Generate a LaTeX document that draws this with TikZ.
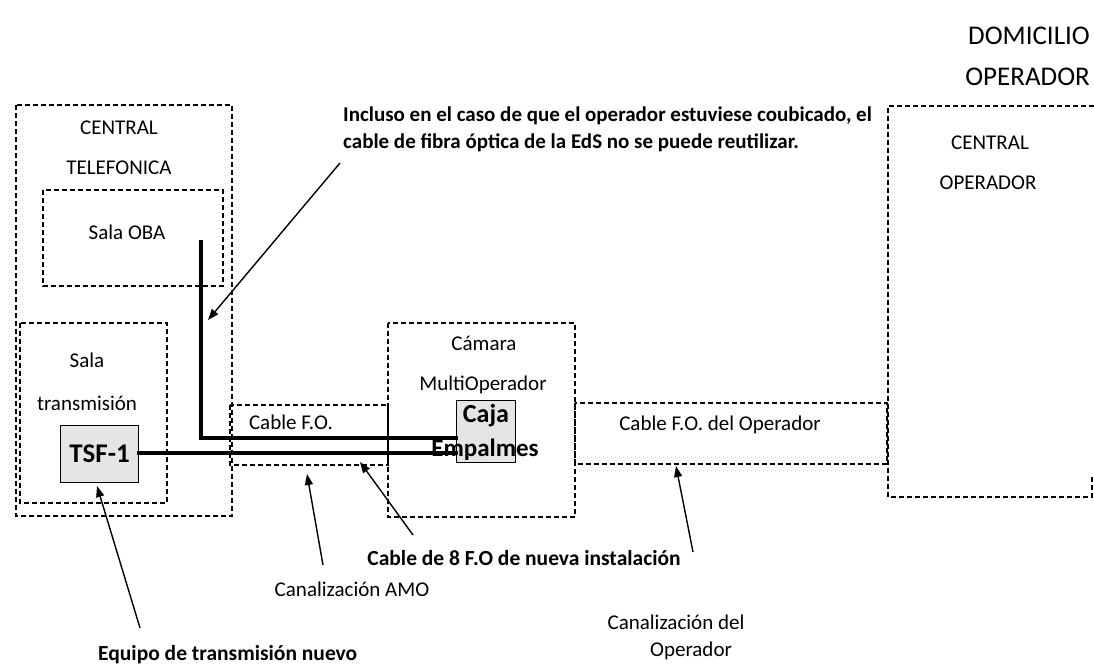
\documentclass[tikz,border=0pt]{standalone}
\usepackage{fontspec}
\setmainfont{Carlito}
\usetikzlibrary{arrows.meta}
\begin{document}
\begin{tikzpicture}[x=1pt,y=-1pt,
  zone/.style={draw=black, line width=1.2pt, dash pattern=on 5pt off 3pt},
  eqbox/.style={draw=black, line width=1.2pt, fill=black!10},
  cable/.style={line width=4.2pt, line cap=rect},
  callout/.style={line width=1.4pt, -{Triangle[length=11pt,width=8pt]}},
  txt/.style={inner sep=0pt, font=\fontsize{21}{25}\selectfont},
  btxt/.style={inner sep=0pt, font=\fontsize{21.5}{25}\selectfont\bfseries},
  eqtxt/.style={inner sep=0pt, font=\fontsize{27}{30}\selectfont\bfseries},
  ttl/.style={inner sep=0pt, font=\fontsize{27}{32}\selectfont}]
\useasboundingbox (0,0) rectangle (1094,666);
% zones
\draw[zone] (16,105) rectangle (232,516);
\draw[zone] (43,190) rectangle (223,286);
\draw[zone] (20,323) rectangle (167,503);
\draw[zone] (230,405) rectangle (388,465);
\draw[zone] (388,323) rectangle (575,517);
\draw[zone] (575,403) rectangle (887,464);
\draw[zone] (1094,106) -- (888,106) -- (888,497) -- (1092,497) -- (1092,477);
% equipment
\node[eqbox, minimum width=78pt, minimum height=57pt, anchor=north west] (tsf) at (60,425) {};
\node[eqbox, minimum width=59pt, minimum height=62pt, anchor=north west] (caja) at (456,400) {};
% cables
\coordinate (oba) at (201,242);
\coordinate (bend) at (201,438);
\draw[cable] (oba) -- (bend) -- (bend -| caja.west);
\draw[cable] (tsf.east |- 0,453) -- (caja.west |- 0,453);
% texts
\node[ttl, anchor=east] (dom) at (1090,36) {DOMICILIO};
\node[ttl, anchor=east] (domop) at (1090,77) {OPERADOR};
\node[txt] (ct1) at (119,128) {CENTRAL};
\node[txt] (ct2) at (119,168) {TELEFONICA};
\node[txt] (sob) at (127,232) {Sala OBA};
\node[txt] (st1) at (87,360) {Sala};
\node[txt] (st2) at (87,403) {transmisión};
\node[eqtxt] (tsft) at (tsf.center) {TSF-1};
\node[txt] (cfo) at (291,422) {Cable F.O.};
\node[txt] (cam1) at (484,343) {Cámara};
\node[txt] (cam2) at (483,385) {MultiOperador};
\node[eqtxt, font=\fontsize{26}{30}\selectfont\bfseries] (caj1) at (486,416) {Caja};
\node[eqtxt, font=\fontsize{25}{30}\selectfont\bfseries] (caj2) at (485,450) {Empalmes};
\node[txt] (cfop) at (720,425) {Cable F.O. del Operador};
\node[txt] (co1) at (990,143) {CENTRAL};
\node[txt] (co2) at (988,183) {OPERADOR};
\node[btxt, font=\fontsize{21}{25}\selectfont\bfseries, anchor=west] (inc1) at (343,116) {Incluso en el caso de que el operador estuviese coubicado, el};
\node[btxt, font=\fontsize{21}{25}\selectfont\bfseries, anchor=west] (inc2) at (343,143) {cable de fibra óptica de la EdS no se puede reutilizar.};
\node[btxt] (c8) at (524,558) {Cable de 8 F.O de nueva instalación};
\node[txt] (amo) at (352,589) {Canalización AMO};
\node[txt] (cdo1) at (676,622) {Canalización del};
\node[txt] (cdo2) at (691,651) {Operador};
\node[btxt, anchor=west] (eq) at (98,655) {Equipo de transmisión nuevo};
% callouts
\coordinate (a1s) at (340,163); \coordinate (a1e) at (208,320);
\draw[callout] (a1s) -- (a1e);
\coordinate (a2s) at (140,628); \coordinate (a2e) at (97,486);
\draw[callout] (a2s) -- (a2e);
\coordinate (a3s) at (323,565); \coordinate (a3e) at (307,474);
\draw[callout] (a3s) -- (a3e);
\coordinate (a4s) at (413,535); \coordinate (a4e) at (360,462);
\draw[callout] (a4s) -- (a4e);
\coordinate (a5s) at (693,552); \coordinate (a5e) at (676,466);
\draw[callout] (a5s) -- (a5e);
\end{tikzpicture}
\end{document}
